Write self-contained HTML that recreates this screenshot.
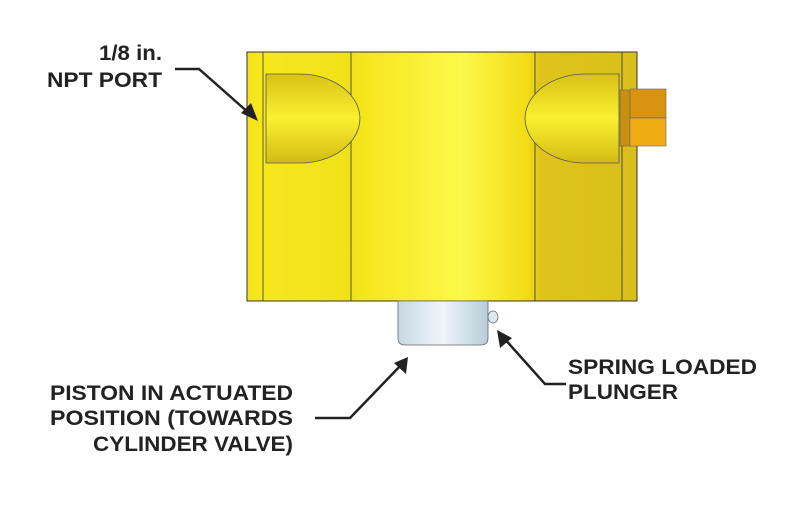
<!DOCTYPE html>
<html><head><style>html,body{margin:0;padding:0;background:#fff}</style></head><body>
<svg width="800" height="500" viewBox="0 0 800 500" xmlns="http://www.w3.org/2000/svg" font-family="Liberation Sans, Arial, sans-serif" font-weight="bold">
<defs>
<linearGradient id="body" x1="0" x2="1" y1="0" y2="0">
<stop offset="0" stop-color="#f2e31e"/>
<stop offset="0.04" stop-color="#f7e81c"/>
<stop offset="0.27" stop-color="#f0e21a"/>
<stop offset="0.3" stop-color="#f5e61c"/>
<stop offset="0.55" stop-color="#fdf84a"/>
<stop offset="0.72" stop-color="#f2dc14"/>
<stop offset="0.75" stop-color="#dec41c"/>
<stop offset="1" stop-color="#d8bf1a"/>
</linearGradient>
<linearGradient id="port" x1="0" x2="0" y1="0" y2="1">
<stop offset="0" stop-color="#d8c216"/>
<stop offset="0.5" stop-color="#fbf030"/>
<stop offset="1" stop-color="#d2bb14"/>
</linearGradient>
<linearGradient id="pist" x1="0" x2="1">
<stop offset="0" stop-color="#c8d8e2"/>
<stop offset="0.5" stop-color="#eef6fa"/>
<stop offset="1" stop-color="#b8ccd8"/>
</linearGradient>
</defs>
<rect x="247" y="52" width="390" height="249" fill="url(#body)" stroke="#333" stroke-width="1"/>
<g stroke="#333" stroke-width="0.8">
<line x1="263" y1="52" x2="263" y2="301"/>
<line x1="351" y1="52" x2="351" y2="301"/>
<line x1="535" y1="52" x2="535" y2="301"/>
<line x1="622" y1="52" x2="622" y2="301"/>
</g>
<path d="M266,74 L300,74 A60,45 0 0 1 360,118 A60,45 0 0 1 300,163 L266,163 Z" fill="url(#port)" stroke="#555" stroke-width="0.8"/>
<path d="M619,74 L585,74 A60,45 0 0 0 525,118 A60,45 0 0 0 585,163 L619,163 Z" fill="url(#port)" stroke="#555" stroke-width="0.8"/>
<rect x="620" y="90" width="10" height="56" fill="#c9900e" stroke="#666" stroke-width="0.6"/>
<rect x="630" y="89" width="36" height="29" fill="#d89410" stroke="#666" stroke-width="0.6"/>
<rect x="630" y="118" width="36" height="28" fill="#f0ac14" stroke="#666" stroke-width="0.6"/>
<path d="M398,301 L488,301 L488,338 Q488,345 481,345 L405,345 Q398,345 398,338 Z" fill="url(#pist)" stroke="#666" stroke-width="0.8"/>
<ellipse cx="493" cy="317" rx="5" ry="6" fill="#dce8ef" stroke="#666" stroke-width="0.7"/>
<g stroke="#222" stroke-width="2.5" fill="none">
<polyline points="175,69 199,69 250,114"/>
<polyline points="315,418 350,418 402,364"/>
<polyline points="503,337 545,384 566,384"/>
</g>
<g fill="#222">
<polygon points="258,121 241,113 251,103"/>
<polygon points="408,357 406,374 394,363"/>
<polygon points="497,330 512,338 500,348"/>
</g>
<g fill="#222" font-size="21">
<text x="162" y="60" text-anchor="end" textLength="63" lengthAdjust="spacingAndGlyphs">1/8 in.</text>
<text x="162" y="87" text-anchor="end" textLength="115" lengthAdjust="spacingAndGlyphs">NPT PORT</text>
<text x="293" y="400" text-anchor="end" textLength="243" lengthAdjust="spacingAndGlyphs">PISTON IN ACTUATED</text>
<text x="293" y="425" text-anchor="end" textLength="243" lengthAdjust="spacingAndGlyphs">POSITION (TOWARDS</text>
<text x="293" y="451" text-anchor="end" textLength="200" lengthAdjust="spacingAndGlyphs">CYLINDER VALVE)</text>
<text x="568" y="374" textLength="189" lengthAdjust="spacingAndGlyphs">SPRING LOADED</text>
<text x="568" y="399" textLength="110" lengthAdjust="spacingAndGlyphs">PLUNGER</text>
</g>
</svg>
</body></html>
